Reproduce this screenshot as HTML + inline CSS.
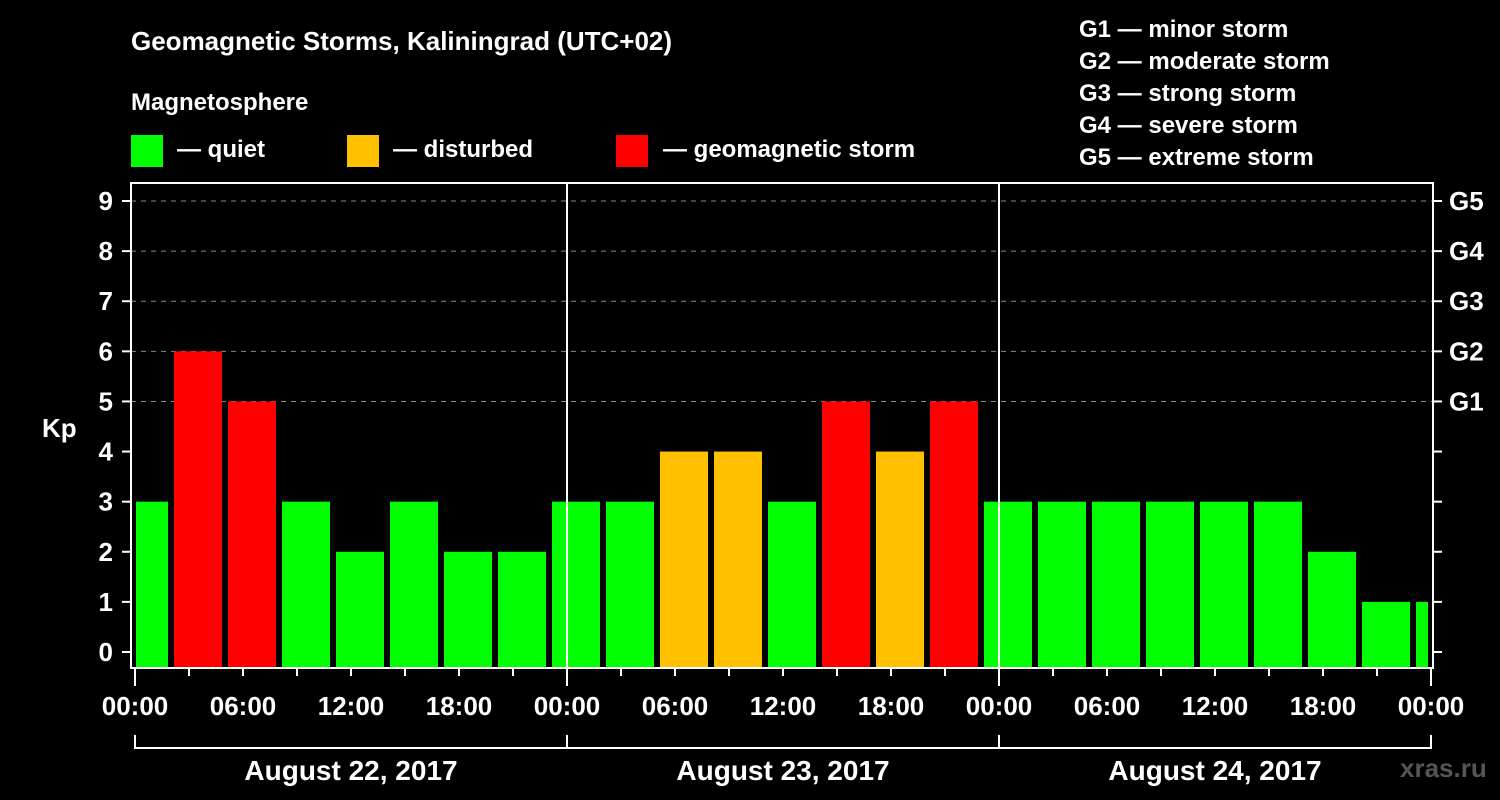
<!DOCTYPE html>
<html><head><meta charset="utf-8"><style>
body{margin:0;background:#000;}
svg{display:block;font-family:"Liberation Sans",sans-serif;font-weight:bold;}
</style></head><body>
<svg width="1500" height="800" viewBox="0 0 1500 800">
<rect width="1500" height="800" fill="#000"/>
<text x="131" y="50" fill="#fff" font-size="26">Geomagnetic Storms, Kaliningrad (UTC+02)</text>
<text x="131" y="110" fill="#fff" font-size="24">Magnetosphere</text>
<g>
<rect x="131" y="135" width="32" height="32" fill="#00ff00"/>
<text x="177" y="157" fill="#fff" font-size="24">— quiet</text>
<rect x="347" y="135" width="32" height="32" fill="#ffc000"/>
<text x="393" y="157" fill="#fff" font-size="24">— disturbed</text>
<rect x="616" y="135" width="32" height="32" fill="#ff0000"/>
<text x="663" y="157" fill="#fff" font-size="24">— geomagnetic storm</text>
</g>
<g fill="#fff" font-size="24">
<text x="1079" y="37">G1 — minor storm</text>
<text x="1079" y="69">G2 — moderate storm</text>
<text x="1079" y="101">G3 — strong storm</text>
<text x="1079" y="133">G4 — severe storm</text>
<text x="1079" y="165">G5 — extreme storm</text>
</g>
<text x="42" y="437" fill="#fff" font-size="26">Kp</text>
<text x="1400" y="777" fill="#555" font-size="26">xras.ru</text>
<g id="grid"></g>
<g id="bars"></g>
<g id="axes"></g>
<rect x="131" y="183" width="1302" height="485" fill="none" stroke="#fff" stroke-width="2"/>
</svg>
<script>
const kpValues=[3,6,5,3,2,3,2,2,3,3,4,4,3,5,4,5,3,3,3,3,3,3,2,1,1];
const yTicks=[0,1,2,3,4,5,6,7,8,9];
const gLabels=["G1","G2","G3","G4","G5"];
const xLabels=["00:00","06:00","12:00","18:00","00:00","06:00","12:00","18:00","00:00","06:00","12:00","18:00","00:00"];
const dayLabels=["August 22, 2017","August 23, 2017","August 24, 2017"];
const NS="http://www.w3.org/2000/svg";
const x0=135,hw=18,plotL=136,plotR=1428;
const X=h=>x0+h*hw;            // hours -> px
const Y=v=>652-v*50.11;
function mk(t,a,p){const e=document.createElementNS(NS,t);for(const k in a)e.setAttribute(k,a[k]);p.appendChild(e);return e;}
const grid=document.getElementById('grid'),bars=document.getElementById('bars'),axes=document.getElementById('axes');
yTicks.forEach(v=>{
 if(v>=5){const l=mk('line',{x1:131,x2:1433,y1:Y(v),y2:Y(v),stroke:'#888','stroke-dasharray':'5,5','stroke-width':1},grid);
 
 }
 const t=mk('line',{x1:122,x2:131,y1:Y(v),y2:Y(v),stroke:'#fff','stroke-width':2},axes);
 
 
 const t2=mk('line',{x1:1433,x2:1442,y1:Y(v),y2:Y(v),stroke:'#fff','stroke-width':2},axes);
 
 
 const tx=mk('text',{x:113,y:Y(v)+9,fill:'#fff','font-size':26,'text-anchor':'end'},axes);tx.textContent=v;
 
 
});
gLabels.forEach((g,i)=>{const tx=mk('text',{x:1449,y:Y(i+5)+9,fill:'#fff','font-size':26},axes);tx.textContent=g;
 
 });
kpValues.forEach((v,k)=>{
 const s=X(3*k-1)+3,e=X(3*k+2)-3;
 const a=Math.max(s,plotL),b=Math.min(e,plotR);
 if(b<=a)return;
 const c=v>=5?'#ff0000':v>=4?'#ffc000':'#00ff00';
 const r=mk('rect',{x:a,y:Y(v),width:b-a,height:667-Y(v),fill:c},bars);
 
 
});
for(let d=1;d<3;d++){const l=mk('line',{x1:X(24*d),x2:X(24*d),y1:183,y2:668,stroke:'#fff','stroke-width':2},axes);
 
 }
for(let h=0;h<=72;h+=3){const big=h%24==0;
 const l=mk('line',{x1:X(h),x2:X(h),y1:668,y2:big?686:676,stroke:'#fff','stroke-width':2},axes);
 
 }
xLabels.forEach((s,i)=>{const tx=mk('text',{x:X(6*i),y:715,fill:'#fff','font-size':26,'text-anchor':'middle'},axes);tx.textContent=s;
 
 });
dayLabels.forEach((s,i)=>{
 const p=mk('path',{d:`M${X(24*i)},735V748H${X(24*i+24)}V735`,fill:'none',stroke:'#fff','stroke-width':2},axes);
 
 
 const tx=mk('text',{x:X(24*i+12),y:780,fill:'#fff','font-size':28,'text-anchor':'middle'},axes);tx.textContent=s;
 
 });
</script>
</body></html>
